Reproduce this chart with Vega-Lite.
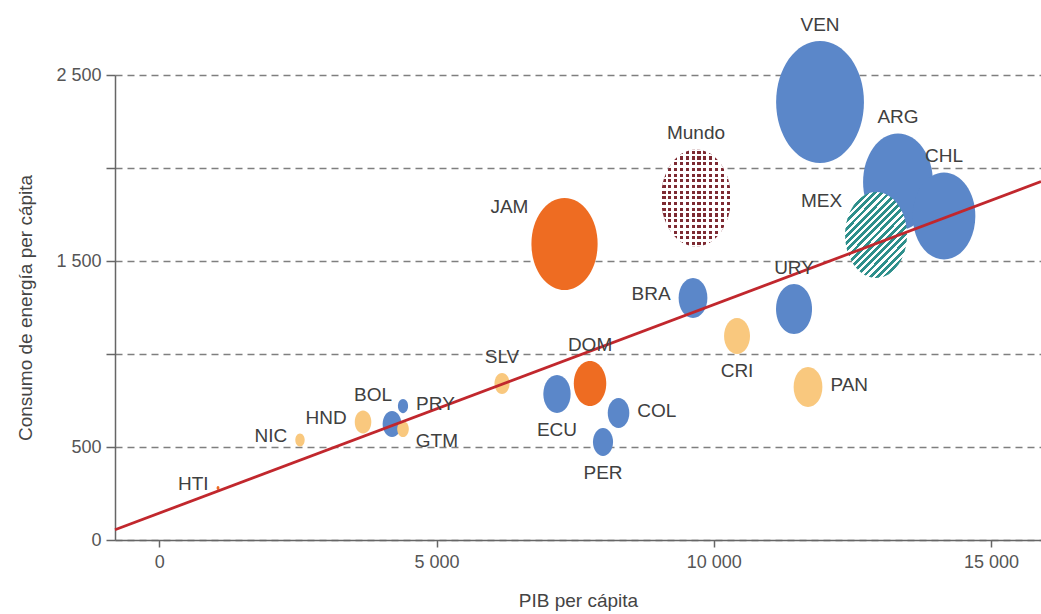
{
  "$schema": "https://vega.github.io/schema/vega-lite/v6.json",
  "width": 926,
  "height": 465,
  "autosize": "none",
  "padding": {"left": 115, "top": 75, "right": 0, "bottom": 74},
  "background": "white",
  "config": {
    "view": {"stroke": null},
    "font": "Liberation Sans",
    "axis": {
      "labelFont": "Liberation Sans",
      "titleFont": "Liberation Sans",
      "labelFontSize": 18,
      "titleFontSize": 19,
      "titleFontWeight": "normal",
      "labelColor": "#555555",
      "titleColor": "#444444",
      "domainColor": "#666666",
      "domainWidth": 1.5,
      "tickColor": "#666666",
      "tickWidth": 1.5
    }
  },
  "datasets": {
    "paises": [
      {"pais": "VEN", "pib": 11915, "energia": 2355, "valor": 148.8, "grupo": "Sudamérica", "pos": "n"},
      {"pais": "ARG", "pib": 13321, "energia": 1925, "valor": 94.1, "grupo": "Sudamérica", "pos": "n"},
      {"pais": "CHL", "pib": 14151, "energia": 1742, "valor": 75.7, "grupo": "Sudamérica", "pos": "n"},
      {"pais": "MEX", "pib": 12925, "energia": 1640, "valor": 74.0, "grupo": "México", "pos": "nw"},
      {"pais": "URY", "pib": 11446, "energia": 1242, "valor": 25.0, "grupo": "Sudamérica", "pos": "n"},
      {"pais": "Mundo", "pib": 9678, "energia": 1839, "valor": 94.1, "grupo": "Mundo", "pos": "n"},
      {"pais": "JAM", "pib": 7307, "energia": 1591, "valor": 84.6, "grupo": "Caribe", "pos": "nw"},
      {"pais": "BRA", "pib": 9624, "energia": 1301, "valor": 16.0, "grupo": "Sudamérica", "pos": "w"},
      {"pais": "CRI", "pib": 10418, "energia": 1097, "valor": 13.0, "grupo": "Centroamérica", "pos": "s"},
      {"pais": "PAN", "pib": 11698, "energia": 823, "valor": 16.0, "grupo": "Centroamérica", "pos": "e"},
      {"pais": "DOM", "pib": 7767, "energia": 841, "valor": 20.3, "grupo": "Caribe", "pos": "n"},
      {"pais": "ECU", "pib": 7171, "energia": 785, "valor": 14.4, "grupo": "Sudamérica", "pos": "s"},
      {"pais": "COL", "pib": 8281, "energia": 683, "valor": 9.0, "grupo": "Sudamérica", "pos": "e"},
      {"pais": "PER", "pib": 8001, "energia": 527, "valor": 7.8, "grupo": "Sudamérica", "pos": "s"},
      {"pais": "SLV", "pib": 6180, "energia": 841, "valor": 4.4, "grupo": "Centroamérica", "pos": "n"},
      {"pais": "PRY", "pib": 4394, "energia": 720, "valor": 2.0, "grupo": "Sudamérica", "pos": "e"},
      {"pais": "HND", "pib": 3673, "energia": 634, "valor": 5.3, "grupo": "Centroamérica", "pos": "w"},
      {"pais": "BOL", "pib": 4196, "energia": 624, "valor": 6.8, "grupo": "Sudamérica", "pos": "nl"},
      {"pais": "GTM", "pib": 4394, "energia": 597, "valor": 2.6, "grupo": "Centroamérica", "pos": "se"},
      {"pais": "NIC", "pib": 2536, "energia": 538, "valor": 1.7, "grupo": "Centroamérica", "pos": "w"},
      {"pais": "HTI", "pib": 1058, "energia": 280, "valor": 0.16, "grupo": "Caribe", "pos": "w"}
    ],
    "tendencia": [
      {"pib": -800, "energia": 55},
      {"pib": 15900, "energia": 1927}
    ]
  },
  "layer": [
    {
      "data": {"name": "paises"},
      "transform": [{"filter": "datum.grupo == 'Sudamérica' || datum.grupo == 'Caribe' || datum.grupo == 'Centroamérica'"}],
      "mark": {
        "type": "point",
        "shape": "M 0 -1 C 0.3977 -1 0.72 -0.5523 0.72 0 C 0.72 0.5523 0.3977 1 0 1 C -0.3977 1 -0.72 0.5523 -0.72 0 C -0.72 -0.5523 -0.3977 -1 0 -1 Z",
        "filled": true,
        "opacity": 1,
        "strokeWidth": 0
      },
      "encoding": {
        "x": {
          "field": "pib", "type": "quantitative",
          "scale": {"domain": [-800, 15900], "nice": false, "zero": false},
          "axis": {
            "title": "PIB per cápita",
            "values": [0, 5000, 10000, 15000],
            "labelExpr": "replace(format(datum.value, ',d'), ',', ' ')",
            "grid": false,
            "tickSize": 7,
            "labelPadding": 6,
            "titlePadding": 20
          }
        },
        "y": {
          "field": "energia", "type": "quantitative",
          "scale": {"domain": [0, 2500], "nice": false, "zero": true},
          "axis": {
            "title": "Consumo de energía per cápita",
            "values": [0, 500, 1000, 1500, 2000, 2500],
            "labelExpr": "datum.value == 1000 || datum.value == 2000 ? '' : replace(format(datum.value, ',d'), ',', ' ')",
            "grid": true,
            "gridColor": "#7f7f7f",
            "gridDash": [7, 5],
            "gridWidth": 1.5,
            "tickSize": 9,
            "labelPadding": 5,
            "titlePadding": 20
          }
        },
        "size": {
          "field": "valor", "type": "quantitative",
          "scale": {"type": "linear", "domain": [0, 100], "range": [0, 10000], "zero": true},
          "legend": null
        },
        "color": {
          "field": "grupo", "type": "nominal",
          "scale": {"domain": ["Sudamérica", "Caribe", "Centroamérica"], "range": ["#5b87c9", "#ee6c22", "#f9c87e"]},
          "legend": null
        },
        "order": {"field": "valor", "type": "quantitative", "sort": "descending"}
      }
    },
    {
      "data": {"name": "paises"},
      "transform": [{"filter": "datum.pais == 'MEX'"}],
      "mark": {
        "type": "point",
        "shape": "M 0 -1 C 0.3977 -1 0.72 -0.5523 0.72 0 C 0.72 0.5523 0.3977 1 0 1 C -0.3977 1 -0.72 0.5523 -0.72 0 C -0.72 -0.5523 -0.3977 -1 0 -1 Z",
        "filled": true,
        "opacity": 1,
        "strokeWidth": 0,
        "fill": {
          "gradient": "linear", "x1": 0, "y1": 0, "x2": 0.8, "y2": 1.1,
          "stops": [
            {"offset": 0, "color": "#2e8f8b"}, {"offset": 0.027, "color": "#2e8f8b"}, {"offset": 0.027, "color": "#ffffff"}, {"offset": 0.05, "color": "#ffffff"},
            {"offset": 0.05, "color": "#2e8f8b"}, {"offset": 0.077, "color": "#2e8f8b"}, {"offset": 0.077, "color": "#ffffff"}, {"offset": 0.1, "color": "#ffffff"},
            {"offset": 0.1, "color": "#2e8f8b"}, {"offset": 0.127, "color": "#2e8f8b"}, {"offset": 0.127, "color": "#ffffff"}, {"offset": 0.15, "color": "#ffffff"},
            {"offset": 0.15, "color": "#2e8f8b"}, {"offset": 0.177, "color": "#2e8f8b"}, {"offset": 0.177, "color": "#ffffff"}, {"offset": 0.2, "color": "#ffffff"},
            {"offset": 0.2, "color": "#2e8f8b"}, {"offset": 0.227, "color": "#2e8f8b"}, {"offset": 0.227, "color": "#ffffff"}, {"offset": 0.25, "color": "#ffffff"},
            {"offset": 0.25, "color": "#2e8f8b"}, {"offset": 0.277, "color": "#2e8f8b"}, {"offset": 0.277, "color": "#ffffff"}, {"offset": 0.3, "color": "#ffffff"},
            {"offset": 0.3, "color": "#2e8f8b"}, {"offset": 0.327, "color": "#2e8f8b"}, {"offset": 0.327, "color": "#ffffff"}, {"offset": 0.35, "color": "#ffffff"},
            {"offset": 0.35, "color": "#2e8f8b"}, {"offset": 0.377, "color": "#2e8f8b"}, {"offset": 0.377, "color": "#ffffff"}, {"offset": 0.4, "color": "#ffffff"},
            {"offset": 0.4, "color": "#2e8f8b"}, {"offset": 0.427, "color": "#2e8f8b"}, {"offset": 0.427, "color": "#ffffff"}, {"offset": 0.45, "color": "#ffffff"},
            {"offset": 0.45, "color": "#2e8f8b"}, {"offset": 0.477, "color": "#2e8f8b"}, {"offset": 0.477, "color": "#ffffff"}, {"offset": 0.5, "color": "#ffffff"},
            {"offset": 0.5, "color": "#2e8f8b"}, {"offset": 0.527, "color": "#2e8f8b"}, {"offset": 0.527, "color": "#ffffff"}, {"offset": 0.55, "color": "#ffffff"},
            {"offset": 0.55, "color": "#2e8f8b"}, {"offset": 0.577, "color": "#2e8f8b"}, {"offset": 0.577, "color": "#ffffff"}, {"offset": 0.6, "color": "#ffffff"},
            {"offset": 0.6, "color": "#2e8f8b"}, {"offset": 0.627, "color": "#2e8f8b"}, {"offset": 0.627, "color": "#ffffff"}, {"offset": 0.65, "color": "#ffffff"},
            {"offset": 0.65, "color": "#2e8f8b"}, {"offset": 0.677, "color": "#2e8f8b"}, {"offset": 0.677, "color": "#ffffff"}, {"offset": 0.7, "color": "#ffffff"},
            {"offset": 0.7, "color": "#2e8f8b"}, {"offset": 0.727, "color": "#2e8f8b"}, {"offset": 0.727, "color": "#ffffff"}, {"offset": 0.75, "color": "#ffffff"},
            {"offset": 0.75, "color": "#2e8f8b"}, {"offset": 0.777, "color": "#2e8f8b"}, {"offset": 0.777, "color": "#ffffff"}, {"offset": 0.8, "color": "#ffffff"},
            {"offset": 0.8, "color": "#2e8f8b"}, {"offset": 0.827, "color": "#2e8f8b"}, {"offset": 0.827, "color": "#ffffff"}, {"offset": 0.85, "color": "#ffffff"},
            {"offset": 0.85, "color": "#2e8f8b"}, {"offset": 0.877, "color": "#2e8f8b"}, {"offset": 0.877, "color": "#ffffff"}, {"offset": 0.9, "color": "#ffffff"},
            {"offset": 0.9, "color": "#2e8f8b"}, {"offset": 0.927, "color": "#2e8f8b"}, {"offset": 0.927, "color": "#ffffff"}, {"offset": 0.95, "color": "#ffffff"},
            {"offset": 0.95, "color": "#2e8f8b"}, {"offset": 0.977, "color": "#2e8f8b"}, {"offset": 0.977, "color": "#ffffff"}, {"offset": 1, "color": "#ffffff"}
          ]
        }
      },
      "encoding": {
        "x": {"field": "pib", "type": "quantitative"},
        "y": {"field": "energia", "type": "quantitative"},
        "size": {"field": "valor", "type": "quantitative"}
      }
    },
    {
      "data": {"name": "paises"},
      "transform": [{"filter": "datum.pais == 'Mundo'"}],
      "mark": {
        "type": "point",
        "shape": "M 0 -1 C 0.3977 -1 0.72 -0.5523 0.72 0 C 0.72 0.5523 0.3977 1 0 1 C -0.3977 1 -0.72 0.5523 -0.72 0 C -0.72 -0.5523 -0.3977 -1 0 -1 Z",
        "filled": true,
        "opacity": 1,
        "strokeWidth": 0,
        "fill": {
          "gradient": "linear", "x1": 0, "y1": 0, "x2": 1, "y2": 0,
          "stops": [
            {"offset": 0, "color": "#ffffff"},
            {"offset": 0.02, "color": "#ffffff"}, {"offset": 0.02, "color": "#7d2a32"}, {"offset": 0.065, "color": "#7d2a32"}, {"offset": 0.065, "color": "#ffffff"},
            {"offset": 0.103, "color": "#ffffff"}, {"offset": 0.103, "color": "#7d2a32"}, {"offset": 0.148, "color": "#7d2a32"}, {"offset": 0.148, "color": "#ffffff"},
            {"offset": 0.187, "color": "#ffffff"}, {"offset": 0.187, "color": "#7d2a32"}, {"offset": 0.232, "color": "#7d2a32"}, {"offset": 0.232, "color": "#ffffff"},
            {"offset": 0.27, "color": "#ffffff"}, {"offset": 0.27, "color": "#7d2a32"}, {"offset": 0.315, "color": "#7d2a32"}, {"offset": 0.315, "color": "#ffffff"},
            {"offset": 0.353, "color": "#ffffff"}, {"offset": 0.353, "color": "#7d2a32"}, {"offset": 0.398, "color": "#7d2a32"}, {"offset": 0.398, "color": "#ffffff"},
            {"offset": 0.437, "color": "#ffffff"}, {"offset": 0.437, "color": "#7d2a32"}, {"offset": 0.482, "color": "#7d2a32"}, {"offset": 0.482, "color": "#ffffff"},
            {"offset": 0.52, "color": "#ffffff"}, {"offset": 0.52, "color": "#7d2a32"}, {"offset": 0.565, "color": "#7d2a32"}, {"offset": 0.565, "color": "#ffffff"},
            {"offset": 0.603, "color": "#ffffff"}, {"offset": 0.603, "color": "#7d2a32"}, {"offset": 0.648, "color": "#7d2a32"}, {"offset": 0.648, "color": "#ffffff"},
            {"offset": 0.687, "color": "#ffffff"}, {"offset": 0.687, "color": "#7d2a32"}, {"offset": 0.732, "color": "#7d2a32"}, {"offset": 0.732, "color": "#ffffff"},
            {"offset": 0.77, "color": "#ffffff"}, {"offset": 0.77, "color": "#7d2a32"}, {"offset": 0.815, "color": "#7d2a32"}, {"offset": 0.815, "color": "#ffffff"},
            {"offset": 0.853, "color": "#ffffff"}, {"offset": 0.853, "color": "#7d2a32"}, {"offset": 0.898, "color": "#7d2a32"}, {"offset": 0.898, "color": "#ffffff"},
            {"offset": 0.937, "color": "#ffffff"}, {"offset": 0.937, "color": "#7d2a32"}, {"offset": 0.982, "color": "#7d2a32"}, {"offset": 0.982, "color": "#ffffff"},
            {"offset": 1, "color": "#ffffff"}
          ]
        }
      },
      "encoding": {
        "x": {"field": "pib", "type": "quantitative"},
        "y": {"field": "energia", "type": "quantitative"},
        "size": {"field": "valor", "type": "quantitative"}
      }
    },
    {
      "data": {"name": "paises"},
      "transform": [{"filter": "datum.pais == 'Mundo'"}],
      "mark": {
        "type": "point",
        "shape": "M 0 -1 C 0.3977 -1 0.72 -0.5523 0.72 0 C 0.72 0.5523 0.3977 1 0 1 C -0.3977 1 -0.72 0.5523 -0.72 0 C -0.72 -0.5523 -0.3977 -1 0 -1 Z",
        "filled": true,
        "opacity": 1,
        "strokeWidth": 0,
        "fill": {
          "gradient": "linear", "x1": 0, "y1": 0, "x2": 0, "y2": 1,
          "stops": [
            {"offset": 0, "color": "#ffffff"},
            {"offset": 0.013, "color": "#ffffff"}, {"offset": 0.013, "color": "rgba(255,255,255,0)"}, {"offset": 0.045, "color": "rgba(255,255,255,0)"}, {"offset": 0.045, "color": "#ffffff"},
            {"offset": 0.072, "color": "#ffffff"}, {"offset": 0.072, "color": "rgba(255,255,255,0)"}, {"offset": 0.104, "color": "rgba(255,255,255,0)"}, {"offset": 0.104, "color": "#ffffff"},
            {"offset": 0.131, "color": "#ffffff"}, {"offset": 0.131, "color": "rgba(255,255,255,0)"}, {"offset": 0.163, "color": "rgba(255,255,255,0)"}, {"offset": 0.163, "color": "#ffffff"},
            {"offset": 0.19, "color": "#ffffff"}, {"offset": 0.19, "color": "rgba(255,255,255,0)"}, {"offset": 0.222, "color": "rgba(255,255,255,0)"}, {"offset": 0.222, "color": "#ffffff"},
            {"offset": 0.248, "color": "#ffffff"}, {"offset": 0.248, "color": "rgba(255,255,255,0)"}, {"offset": 0.28, "color": "rgba(255,255,255,0)"}, {"offset": 0.28, "color": "#ffffff"},
            {"offset": 0.307, "color": "#ffffff"}, {"offset": 0.307, "color": "rgba(255,255,255,0)"}, {"offset": 0.339, "color": "rgba(255,255,255,0)"}, {"offset": 0.339, "color": "#ffffff"},
            {"offset": 0.366, "color": "#ffffff"}, {"offset": 0.366, "color": "rgba(255,255,255,0)"}, {"offset": 0.398, "color": "rgba(255,255,255,0)"}, {"offset": 0.398, "color": "#ffffff"},
            {"offset": 0.425, "color": "#ffffff"}, {"offset": 0.425, "color": "rgba(255,255,255,0)"}, {"offset": 0.457, "color": "rgba(255,255,255,0)"}, {"offset": 0.457, "color": "#ffffff"},
            {"offset": 0.484, "color": "#ffffff"}, {"offset": 0.484, "color": "rgba(255,255,255,0)"}, {"offset": 0.516, "color": "rgba(255,255,255,0)"}, {"offset": 0.516, "color": "#ffffff"},
            {"offset": 0.542, "color": "#ffffff"}, {"offset": 0.542, "color": "rgba(255,255,255,0)"}, {"offset": 0.574, "color": "rgba(255,255,255,0)"}, {"offset": 0.574, "color": "#ffffff"},
            {"offset": 0.601, "color": "#ffffff"}, {"offset": 0.601, "color": "rgba(255,255,255,0)"}, {"offset": 0.633, "color": "rgba(255,255,255,0)"}, {"offset": 0.633, "color": "#ffffff"},
            {"offset": 0.66, "color": "#ffffff"}, {"offset": 0.66, "color": "rgba(255,255,255,0)"}, {"offset": 0.692, "color": "rgba(255,255,255,0)"}, {"offset": 0.692, "color": "#ffffff"},
            {"offset": 0.719, "color": "#ffffff"}, {"offset": 0.719, "color": "rgba(255,255,255,0)"}, {"offset": 0.751, "color": "rgba(255,255,255,0)"}, {"offset": 0.751, "color": "#ffffff"},
            {"offset": 0.778, "color": "#ffffff"}, {"offset": 0.778, "color": "rgba(255,255,255,0)"}, {"offset": 0.81, "color": "rgba(255,255,255,0)"}, {"offset": 0.81, "color": "#ffffff"},
            {"offset": 0.837, "color": "#ffffff"}, {"offset": 0.837, "color": "rgba(255,255,255,0)"}, {"offset": 0.869, "color": "rgba(255,255,255,0)"}, {"offset": 0.869, "color": "#ffffff"},
            {"offset": 0.895, "color": "#ffffff"}, {"offset": 0.895, "color": "rgba(255,255,255,0)"}, {"offset": 0.927, "color": "rgba(255,255,255,0)"}, {"offset": 0.927, "color": "#ffffff"},
            {"offset": 0.954, "color": "#ffffff"}, {"offset": 0.954, "color": "rgba(255,255,255,0)"}, {"offset": 0.986, "color": "rgba(255,255,255,0)"}, {"offset": 0.986, "color": "#ffffff"},
            {"offset": 1, "color": "#ffffff"}
          ]
        }
      },
      "encoding": {
        "x": {"field": "pib", "type": "quantitative"},
        "y": {"field": "energia", "type": "quantitative"},
        "size": {"field": "valor", "type": "quantitative"}
      }
    },
    {
      "data": {"name": "tendencia"},
      "mark": {"type": "line", "color": "#c1272d", "strokeWidth": 2.8},
      "encoding": {
        "x": {"field": "pib", "type": "quantitative"},
        "y": {"field": "energia", "type": "quantitative"}
      }
    },
    {
      "data": {"name": "paises"},
      "mark": {
        "type": "text",
        "font": "Liberation Sans",
        "fontSize": 19,
        "color": "#404040",
        "align": {"expr": "datum.pos == 'w' || datum.pos == 'nw' || datum.pos == 'nl' ? 'right' : (datum.pos == 'e' || datum.pos == 'se' ? 'left' : 'center')"},
        "baseline": {"expr": "datum.pos == 'n' || datum.pos == 'nl' ? 'alphabetic' : (datum.pos == 's' ? 'top' : 'middle')"},
        "dx": {"expr": "datum.pos == 'e' ? 3.6 * sqrt(datum.valor) + 8 : (datum.pos == 'se' ? 3.6 * sqrt(datum.valor) + 7 : (datum.pos == 'w' ? -3.6 * sqrt(datum.valor) - 8 : (datum.pos == 'nw' ? -3.6 * sqrt(datum.valor) - 3 : 0)))"},
        "dy": {"expr": "datum.pos == 'n' || datum.pos == 'nl' ? -5 * sqrt(datum.valor) - 10 : (datum.pos == 's' ? 5 * sqrt(datum.valor) + 8 : (datum.pos == 'e' ? -2 : (datum.pos == 'w' ? -4 : (datum.pos == 'nw' ? -4 * sqrt(datum.valor) : (datum.pos == 'se' ? 12 : 0)))))"}
      },
      "encoding": {
        "x": {"field": "pib", "type": "quantitative"},
        "y": {"field": "energia", "type": "quantitative"},
        "text": {"field": "pais", "type": "nominal"}
      }
    }
  ]
}
